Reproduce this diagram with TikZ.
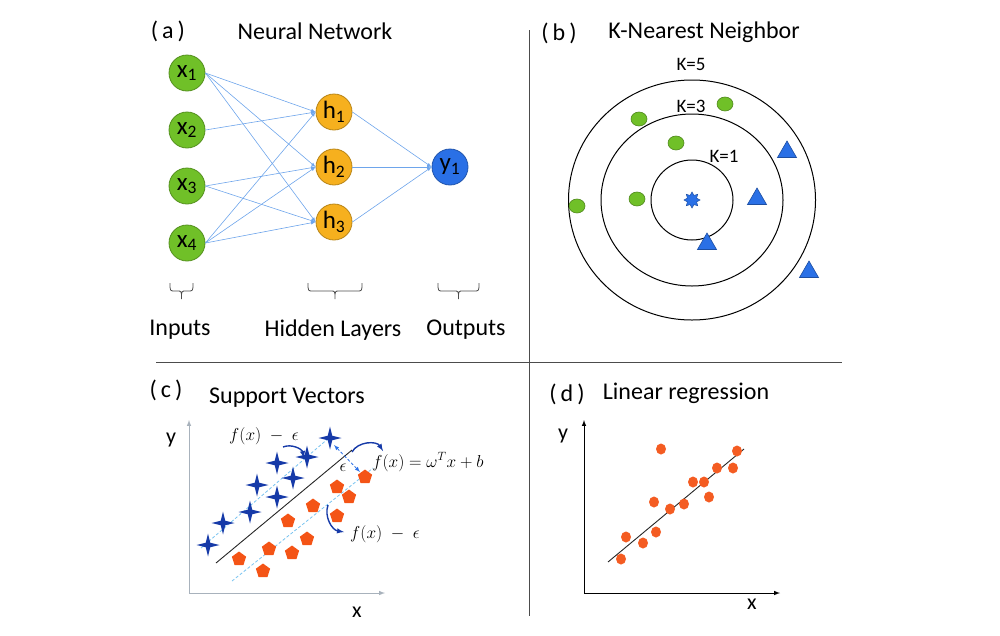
\documentclass[tikz,border=0pt]{standalone}
\usepackage{fontspec}
\setmainfont{Carlito}
\usepackage{amsmath}
\usetikzlibrary{shapes,arrows}
\definecolor{nngreen}{RGB}{112,192,40}
\definecolor{nnorange}{RGB}{246,176,30}
\definecolor{nnblue}{RGB}{42,112,230}
\definecolor{edgeblue}{RGB}{110,165,235}
\definecolor{svmblue}{RGB}{22,58,168}
\definecolor{svmorange}{RGB}{244,84,22}
\definecolor{marginblue}{RGB}{120,195,240}
\definecolor{axisgray}{RGB}{168,178,188}
\definecolor{dotred}{RGB}{244,92,34}
\newcommand{\bigfont}[1]{\fontsize{#1}{#1}\selectfont}
% curly brace under a layer, from x=#1 to x=#2
\newcommand{\layerbrace}[2]{
  \pgfmathsetmacro{\bmid}{(#1+#2)/2}
  \draw[bracepath] (#1,283) .. controls (#1,291) .. (#1+5,291) -- (\bmid-4,291)
    .. controls (\bmid,291) .. (\bmid,299)
    .. controls (\bmid,291) .. (\bmid+4,291) -- (#2-5,291)
    .. controls (#2,291) .. (#2,283);
}
\tikzset{
  neuron/.style  = {circle, draw=#1!75!black, fill=#1, line width=0.8pt,
                    minimum size=36pt, inner sep=0pt, font=\bigfont{25}},
  synapse/.style = {draw=edgeblue, line width=0.6pt, -latex},
  title/.style   = {inner sep=0pt, font=\bigfont{24}},
  layername/.style = {inner sep=0pt, font=\bigfont{24}},
  klabel/.style  = {inner sep=0pt, font=\bigfont{19}},
  axlabel/.style = {inner sep=0pt, font=\bigfont{22}},
  mathlabel/.style = {inner sep=0pt, font=\bigfont{18}},
  bracepath/.style = {draw=black!70, line width=0.8pt},
  divider/.style = {draw=black!70, line width=1pt},
  ring/.style    = {draw=black, line width=1pt},
  kdot/.style    = {ellipse, draw=nngreen!70!black, fill=nngreen, line width=0.6pt,
                    minimum width=16pt, minimum height=14pt, inner sep=0pt},
  ktri/.style    = {regular polygon, regular polygon sides=3, draw=nnblue!70!black,
                    fill=nnblue, line width=0.6pt, minimum size=22pt, inner sep=0pt},
  kquery/.style  = {star, star points=8, star point ratio=1.6, draw=nnblue!70!black,
                    fill=nnblue, line width=0.5pt, minimum size=16pt, inner sep=0pt},
  sstar/.style   = {star, star points=4, star point ratio=3.6, fill=svmblue,
                    minimum size=23pt, inner sep=0pt},
  spent/.style   = {regular polygon, regular polygon sides=5, fill=svmorange,
                    minimum size=15pt, inner sep=0pt},
  rdot/.style    = {ellipse, fill=dotred, minimum width=10pt, minimum height=11pt,
                    inner sep=0pt},
  margin/.style  = {draw=marginblue, line width=0.8pt, dash pattern=on 3pt off 2pt},
  hyper/.style   = {draw=black!85, line width=0.9pt},
  note/.style    = {draw=svmblue, line width=1.4pt, -latex},
  epsarrow/.style = {draw=nnblue, line width=0.8pt, dash pattern=on 3pt off 2pt, latex-latex},
  grayaxis/.style = {draw=axisgray, line width=1pt, latex-latex},
  blackaxis/.style = {draw=black, line width=1pt, latex-latex},
}

\begin{document}
\begin{tikzpicture}[x=1pt, y=-1pt]
  \useasboundingbox (0,0) rectangle (1000,635);
  % panel dividers
  \draw[divider] (529,30) -- (529,616);
  \draw[divider] (156,362) -- (842,362);

  % (a) neural network
  \node[title] (ta) at (168,31) {(\,a\,)};
  \node[title] (tnn) at (315,31) {Neural Network};
  \foreach \i/\y in {1/73,2/130,3/186,4/243}
    \node[neuron=nngreen] (x\i) at (187,\y) {x\textsubscript{\i}};
  \foreach \i/\y in {1/112,2/167,3/222}
    \node[neuron=nnorange] (h\i) at (334,\y) {h\textsubscript{\i}};
  \node[neuron=nnblue] (y1) at (450,167) {y\textsubscript{1}};
  \foreach \s/\t in {x1/h1,x1/h2,x1/h3,x2/h1,x3/h2,x3/h3,x4/h1,x4/h2,x4/h3,h1/y1,h2/y1,h3/y1}
    \draw[synapse] (\s.east) -- (\t.west);
  \layerbrace{170}{193}
  \layerbrace{308}{362}
  \layerbrace{438}{479}
  \node[layername] (lin) at (180,330) {Inputs};
  \node[layername] (lhid) at (333,330) {Hidden Layers};
  \node[layername] (lout) at (466,330) {Outputs};

  % (b) k-nearest neighbor
  \node[title] (tb) at (559,33) {(\,b\,)};
  \node[title] (tknn) at (704,32) {K-Nearest Neighbor};
  \coordinate (knn) at (692,200);
  \foreach \rx/\ry in {41/40,91/86,123.5/120}
    \draw[ring] (knn) ellipse [x radius=\rx, y radius=\ry];
  \node[klabel] (k5) at (691,64) {K=5};
  \node[klabel] (k3) at (691,106) {K=3};
  \node[klabel] (k1) at (724,156) {K=1};
  \foreach \i/\p in {1/{639,119},2/{725,104},3/{676,143},4/{637,199},5/{577,206}}
    \node[kdot] (g\i) at (\p) {};
  \foreach \i/\p in {1/{787,152},2/{757,199},3/{707,244},4/{809,272}}
    \node[ktri] (t\i) at (\p) {};
  \node[kquery] (q) at (knn) {};

  % (c) support vectors
  \node[title] (tc) at (166,390) {(\,c\,)};
  \node[title] (tsv) at (287,398) {Support Vectors};
  \coordinate (oc) at (189,593);
  \draw[grayaxis] (189,420) -- (oc) -- (385,593);
  \node[axlabel] (yc) at (171,440) {y};
  \node[axlabel] (xc) at (357,612) {x};
  \draw[margin] (201,548) -- (330,437);
  \draw[margin] (232,581) -- (373,468);
  \draw[hyper] (216,563) -- (352,450);
  \foreach \i/\p in {1/{330,438},2/{307,457},3/{277,463},4/{293,478},5/{257,485},
                     6/{277,497},7/{250,512},8/{223,523},9/{208,545}}
    \node[sstar] (s\i) at (\p) {};
  \foreach \i/\p in {1/{365,477},2/{337,487},3/{349,497},4/{313,506},5/{337,516},6/{288,521},
                     7/{307,539},8/{269,549},9/{292,553},10/{239,559},11/{263,571}}
    \node[spent] (p\i) at (\p) {};
  \draw[epsarrow] (334,445) -- (360,472);
  \node[mathlabel] (eps) at (343,468) {$\epsilon$};
  \node[mathlabel] (fup) at (264,436) {$f(x)\mskip5mu-\mskip5mu\epsilon$};
  \node[mathlabel, font=\bigfont{17}] (fmid) at (428,462) {$f(x)=\omega^{T}x+b$};
  \node[mathlabel] (flow) at (385,534) {$f(x)\mskip5mu-\mskip5mu\epsilon$};
  \draw[note] (283,447) to[bend left=50] (304,458);
  \draw[note] (352,452) to[bend left=60] (383,451);
  \draw[note] (328,505) to[bend right=50] (344,532);

  % (d) linear regression
  \node[title] (td) at (567,394) {(\,d\,)};
  \node[title] (tlr) at (686,393) {Linear regression};
  \coordinate (od) at (584,593);
  \draw[blackaxis] (584,420) -- (od) -- (780,593);
  \node[axlabel] (yd) at (563,436) {y};
  \node[axlabel] (xd) at (752,604) {x};
  \draw[hyper] (608,562) -- (744,449);
  \foreach \i/\p in {1/{621,559},2/{626,537},3/{643,543},4/{656,532},5/{654,502},6/{670,509},7/{684,504},
                     8/{693,482},9/{704,482},10/{709,497},11/{717,468},12/{733,468},13/{737,451},14/{661,449}}
    \node[rdot] (r\i) at (\p) {};
\end{tikzpicture}
\end{document}
